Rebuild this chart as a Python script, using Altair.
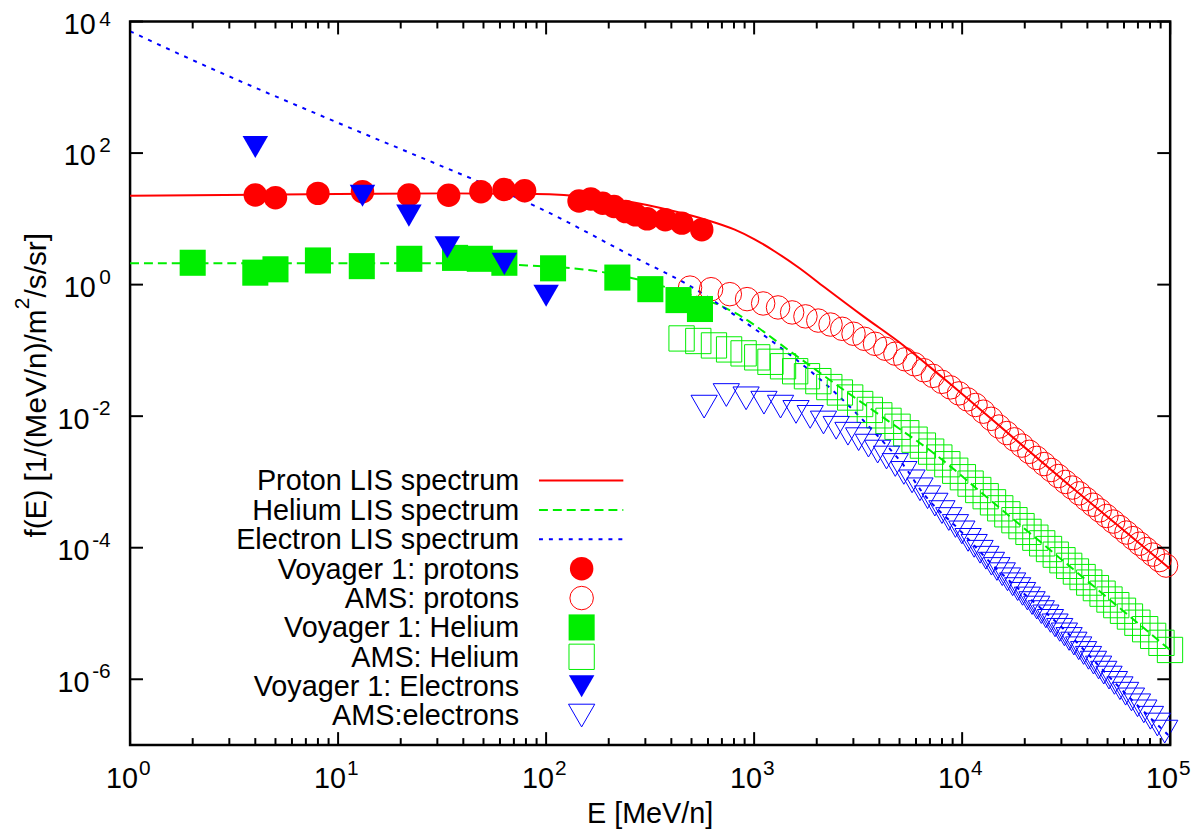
import pandas as pd
import altair as alt

# ---- data (E in MeV/n, f(E) in 1/(MeV/n)/m^2/s/sr) ----

# LIS model curves
p_lis_e = [1, 9.95, 33.3, 89.6, 173, 249, 418, 580, 807, 1005, 1253, 1648, 2172, 3365,
           5224, 8110, 13790, 31360, 57260, 100000]
p_lis_f = [22.5, 23.8, 24.4, 23.9, 21.0, 18.3, 12.9, 9.8, 6.85, 4.89, 3.22, 1.79, 0.92,
           0.326, 0.119, 0.0379, 0.00911, 0.00100, 0.000206, 4.75e-5]

he_lis_e = [1, 29.9, 74.3, 187, 387, 807, 1560, 2704, 4199, 7768, 12974, 35230, 100000]
he_lis_f = [2.12, 2.12, 1.98, 1.55, 0.891, 0.374, 0.0871, 0.0249, 0.00943, 0.00235,
            0.000607, 4.35e-5, 2.78e-6]

e_lis_e = [1, 2.13, 10.3, 32.1, 89.6, 269, 482, 881, 1279, 1841, 2673, 3843, 5410, 6281,
           9970, 13830, 31015, 61075, 100000]
e_lis_f = [7110, 2366, 277, 61.7, 15.4, 2.55, 0.99, 0.284, 0.1233, 0.0500, 0.01763, 0.0054,
           0.00155, 7.73e-4, 1.71e-4, 5.72e-5, 5.64e-6, 6.03e-7, 1.33e-7]

# Voyager 1
voy_p_e = [4.0, 5.0, 8.0, 13.1, 21.9, 34.0, 48.6, 62.8, 78.8, 144, 164, 187, 212, 241,
           269, 306, 374, 449, 560]
voy_p_f = [23.1, 21.0, 24.4, 25.9, 23.1, 22.9, 25.9, 28.0, 26.8, 18.7, 20.1, 17.3, 15.4,
           12.9, 11.5, 10.0, 9.68, 8.61, 6.85]

voy_he_e = [2.0, 4.0, 5.0, 8.0, 13.0, 22.0, 36.5, 48.0, 63.0, 108, 220, 317, 433, 549]
voy_he_f = [2.15, 1.52, 1.71, 2.33, 1.91, 2.47, 2.55, 2.47, 2.15, 1.77, 1.28, 0.853,
            0.582, 0.426]

voy_e_e = [4.0, 13.1, 21.9, 33.5, 63.0, 100.0]
voy_e_f = [124, 22.5, 11.2, 3.71, 2.07, 0.676]

# AMS
ams_p_e = [492, 621, 764, 925, 1105, 1303, 1523, 1765, 2034, 2330, 2652, 3005, 3390,
           3811, 4272, 4775, 5318, 5907, 6546, 7236, 7982, 8787, 9654, 10600, 11600,
           12640, 13790, 15040, 16390, 17830, 19380, 21030, 22830, 24780, 26810, 29010,
           31360, 33860, 36560, 39460, 42560, 45860, 49410, 53210, 57260, 61610, 66310,
           71360, 76760, 82560, 88810, 95560]
ams_p_f = [0.901, 0.852, 0.716, 0.602, 0.517, 0.450, 0.378, 0.329, 0.284, 0.247, 0.213,
           0.179, 0.150, 0.126, 0.106, 0.0892, 0.0732, 0.0615, 0.0499, 0.0410, 0.0333,
           0.0274, 0.0222, 0.0180, 0.0148, 0.0117, 0.00911, 0.00696, 0.00554, 0.00444,
           0.00357, 0.00287, 0.00232, 0.00187, 0.00152, 0.00123, 0.00100, 0.000821,
           0.000671, 0.000549, 0.000450, 0.000370, 0.000304, 0.000250, 0.000206,
           0.000170, 0.000140, 0.000115, 9.53e-5, 7.86e-5, 6.49e-5, 5.35e-5]

ams_he_e = [448, 539, 641, 758, 890, 1035, 1198, 1377, 1575, 1795, 2036, 2298, 2584,
            2896, 3234, 3600, 3997, 4425, 4893, 5387, 5907, 6477, 7097, 7768, 8489, 9261,
            10083, 10980, 11952, 12974, 14072, 15245, 16493, 17841, 19289, 20838, 22487,
            24260, 26159, 28183, 30357, 32706, 35230, 37929, 40828, 43953, 47327, 51076,
            55070, 59320, 64070, 69570, 75820, 82820, 90820, 99820]
ams_he_f = [0.152, 0.139, 0.119, 0.1035, 0.0901, 0.0784, 0.0671, 0.0574, 0.0482, 0.0405,
            0.0341, 0.0277, 0.0229, 0.0192, 0.0153, 0.01245, 0.0103, 0.00849, 0.00690,
            0.00550, 0.00439, 0.00357, 0.00289, 0.00235, 0.00186, 0.00148, 0.00118,
            0.000943, 0.000754, 0.000607, 0.000490, 0.000397, 0.000322, 0.000262,
            0.000213, 0.000174, 0.000142, 0.0001165, 9.55e-5, 7.84e-5, 6.45e-5, 5.30e-5,
            4.35e-5, 3.58e-5, 2.95e-5, 2.43e-5, 2.00e-5, 1.63e-5, 1.34e-5, 1.10e-5,
            8.99e-6, 7.23e-6, 5.77e-6, 4.57e-6, 3.58e-6, 2.79e-6]

ams_e_e = [575, 735, 915, 1115, 1340, 1590, 1860, 2155, 2480, 2825, 3180, 3545, 3925,
           4330, 4770, 5245, 5745, 6270, 6820, 7395, 7995, 8625, 9285, 9970, 10680, 11420,
           12195, 13000, 13830, 14695, 15595, 16525, 17490, 18485, 19515, 20585, 21690,
           22835, 24020, 25260, 26575, 27965, 29445, 31015, 32675, 34445, 36335, 38350,
           40500, 42805, 45285, 47950, 50830, 53955, 57355, 61075, 65160, 69675, 74710,
           80365, 86775, 94135]
ams_e_f = [0.01396, 0.02096, 0.01868, 0.01603, 0.01396, 0.01161, 0.00976, 0.00801,
           0.00666, 0.00541, 0.00447, 0.003565, 0.002893, 0.002350, 0.001811, 0.001372,
           0.001021, 0.000773, 0.000586, 0.000452, 0.000348, 0.000273, 0.000214,
           0.000171, 0.0001316, 0.0001068, 8.68e-5, 7.04e-5, 5.72e-5, 4.75e-5, 3.96e-5,
           3.31e-5, 2.78e-5, 2.35e-5, 1.99e-5, 1.69e-5, 1.44e-5, 1.23e-5, 1.05e-5,
           9.03e-6, 7.72e-6, 6.60e-6, 5.64e-6, 4.81e-6, 4.10e-6, 3.49e-6, 2.96e-6,
           2.51e-6, 2.12e-6, 1.79e-6, 1.51e-6, 1.26e-6, 1.06e-6, 8.81e-7, 7.31e-7,
           6.03e-7, 4.94e-7, 4.02e-7, 3.25e-7, 2.60e-7, 2.05e-7, 1.60e-7]

# axis ticks and labels
x_major = [1, 10, 100, 1000, 10000, 100000]
x_exp = ["0", "1", "2", "3", "4", "5"]
x_minor = [m * 10 ** d for d in range(5) for m in range(2, 10)]
y_top = [10000]
y_top_exp = ["4"]
y_pos = [1, 100]
y_pos_exp = ["0", "2"]
y_neg = [1e-6, 1e-4, 1e-2]
y_neg_exp = ["-6", "-4", "-2"]

legend_labels = ["Proton LIS spectrum", "Helium LIS spectrum", "Electron LIS spectrum",
                 "Voyager 1: protons", "AMS: protons", "Voyager 1: Helium", "AMS: Helium",
                 "Voyager 1: Electrons", "AMS:electrons"]

RED, GREEN, BLUE = "#ff0000", "#00ee00", "#0000ff"
FONT = "Liberation Sans"
W, H = 1048, 729

xs = alt.Scale(type="log", domain=[1, 100000], nice=False)
ys = alt.Scale(type="log", domain=[1e-7, 10000], nice=False)


def xy(e, f):
    return alt.Chart(pd.DataFrame({"E": e, "f": f})).encode(
        x=alt.X("E:Q", scale=xs, axis=None),
        y=alt.Y("f:Q", scale=ys, axis=None))


# series styles (mark options), in the key's order
line_styles = [
    dict(color=RED, strokeWidth=2),
    dict(color=GREEN, strokeWidth=2, strokeDash=[9, 5]),
    dict(color=BLUE, strokeWidth=2, strokeDash=[4, 6]),
]
point_styles = [
    dict(shape="circle", filled=True, size=560, color=RED, opacity=1),
    dict(shape="circle", filled=False, size=560, color=RED, strokeWidth=1, opacity=1),
    dict(shape="square", filled=True, size=690, color=GREEN, opacity=1),
    dict(shape="square", filled=False, size=650, color=GREEN, strokeWidth=1, opacity=1),
    dict(shape="triangle-down", filled=True, size=660, color=BLUE, opacity=1),
    dict(shape="triangle-down", filled=False, size=700, color=BLUE, strokeWidth=1, opacity=1),
]

layers = []
for (e, f), st in zip([(p_lis_e, p_lis_f), (he_lis_e, he_lis_f), (e_lis_e, e_lis_f)], line_styles):
    layers.append(xy(e, f).mark_line(clip=True, interpolate="monotone", **st))
for (e, f), st in zip([(voy_p_e, voy_p_f), (ams_p_e, ams_p_f), (voy_he_e, voy_he_f),
                       (ams_he_e, ams_he_f), (voy_e_e, voy_e_f), (ams_e_e, ams_e_f)], point_styles):
    layers.append(xy(e, f).mark_point(**st))

# inward ticks, mirrored on all four sides
tx = lambda vals: alt.Chart(pd.DataFrame({"v": vals}))
xv = alt.X("v:Q", scale=xs, axis=None)
yv = alt.Y("v:Q", scale=ys, axis=None)
tick = dict(color="black", strokeWidth=2)
for vals, ln in [(x_major, 13), (x_minor, 7)]:
    layers.append(tx(vals).mark_rule(**tick).encode(x=xv, y=alt.value(H), y2=alt.value(H - ln)))
    layers.append(tx(vals).mark_rule(**tick).encode(x=xv, y=alt.value(0), y2=alt.value(ln)))
for vals in [y_top + y_pos, y_neg]:
    layers.append(tx(vals).mark_rule(**tick).encode(y=yv, x=alt.value(0), x2=alt.value(13)))
    layers.append(tx(vals).mark_rule(**tick).encode(y=yv, x=alt.value(W), x2=alt.value(W - 13)))

# tick labels: "10" plus a raised exponent
xl = alt.Chart(pd.DataFrame({"v": x_major, "b": ["10"] * 6, "x": x_exp}))
layers.append(xl.mark_text(align="right", baseline="alphabetic", font=FONT, fontSize=29, dx=8)
              .encode(x=xv, y=alt.value(H + 43), text="b:N"))
layers.append(xl.mark_text(align="left", baseline="alphabetic", font=FONT, fontSize=21, dx=9)
              .encode(x=xv, y=alt.value(H + 30.5), text="x:N"))
for vals, exps, base_x, sup_dy in [(y_top, y_top_exp, -34.5, 5), (y_pos, y_pos_exp, -34.5, -1),
                                   (y_neg, y_neg_exp, -41, -1)]:
    yl = alt.Chart(pd.DataFrame({"v": vals, "b": ["10"] * len(vals), "x": exps}))
    layers.append(yl.mark_text(align="right", baseline="alphabetic", font=FONT, fontSize=29, dy=12.5)
                  .encode(y=yv, x=alt.value(base_x), text="b:N"))
    layers.append(yl.mark_text(align="right", baseline="alphabetic", font=FONT, fontSize=21, dy=sup_dy)
                  .encode(y=yv, x=alt.value(-19.5), text="x:N"))


def label(t, x, y, size, **kw):
    return alt.Chart(pd.DataFrame({"t": [t]})).mark_text(
        font=FONT, fontSize=size, baseline="alphabetic", **kw).encode(
        x=alt.value(x), y=alt.value(y), text="t:N")


# axis titles
layers.append(label("E [MeV/n]", W / 2, H + 79, 29, align="center"))
layers.append(label("f(E) [1/(MeV/n)/m", -84.5, 520, 30, align="left", angle=270))
layers.append(label("2", -102, 290, 21, align="left", angle=270))
layers.append(label("/s/sr]", -84.5, 278, 30, align="left", angle=270))

# key, lower left, symbols to the right of right-aligned labels
for i, name in enumerate(legend_labels):
    cy = 462.5 + 29.6 * i
    layers.append(label(name, 392, cy + 10, 29, align="right"))
    one = alt.Chart(pd.DataFrame({"t": [name]}))
    if i < 3:
        layers.append(one.mark_rule(**line_styles[i]).encode(
            x=alt.value(412), x2=alt.value(497), y=alt.value(cy)))
    else:
        layers.append(one.mark_point(**point_styles[i - 3]).encode(
            x=alt.value(455), y=alt.value(cy)))

chart = alt.layer(*layers).properties(
    width=W, height=H,
    padding={"left": 123, "top": 10.5, "right": 22, "bottom": 86},
    autosize=alt.AutoSizeParams(type="none"),
).configure_view(stroke="black", strokeWidth=2.5)

chart.save("out.html", embed_options={"renderer": "svg", "actions": False})
